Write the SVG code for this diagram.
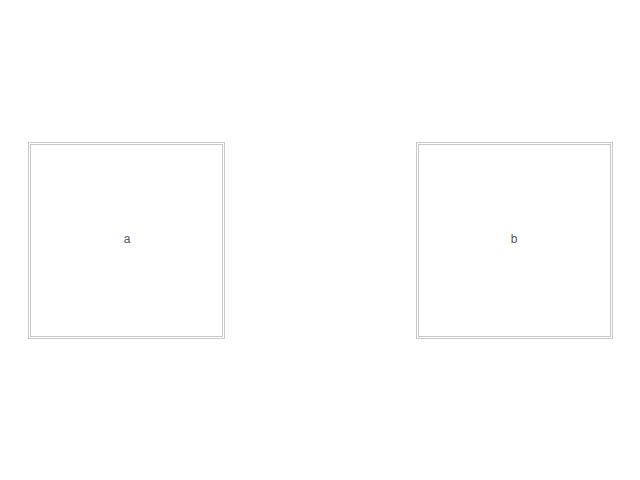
<svg xmlns="http://www.w3.org/2000/svg" width="640" height="480" viewBox="0 0 640 480">
<style>
.o{fill:none;stroke:#c8c8c8;stroke-width:1}
.t{font-family:"Liberation Sans",Arial,sans-serif;font-size:12px;fill:#555;text-anchor:middle}
</style>
<rect width="640" height="480" fill="#fff"/>
<g id="connectors"></g>
<g id="a">
<rect class="o" x="28.5" y="142.5" width="196" height="196"/>
<rect class="o" x="30.5" y="144.5" width="192" height="192"/>
<text class="t" x="127" y="243">a</text>
</g>
<g id="b">
<rect class="o" x="416.5" y="142.5" width="196" height="196"/>
<rect class="o" x="418.5" y="144.5" width="192" height="192"/>
<text class="t" x="514" y="243">b</text>
</g>
</svg>
